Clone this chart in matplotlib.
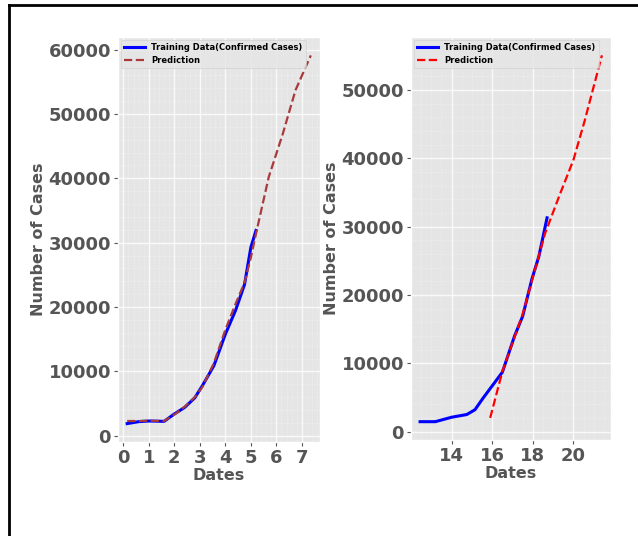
import matplotlib
matplotlib.use('Agg')
import matplotlib.pyplot as plt
from matplotlib.lines import Line2D

# left panel: days since start
train_x1 = [0.15, 0.6, 1.0, 1.6, 2.0, 2.4, 2.8, 3.1, 3.55, 4.0, 4.4, 4.75, 5.0, 5.2]
train_y1 = [1900, 2200, 2300, 2250, 3400, 4400, 5900, 7800, 10900, 15800, 19500, 23500, 29300, 31900]
pred_x1 = [0.15, 0.6, 1.0, 1.6, 2.0, 2.4, 2.8, 3.1, 3.55, 4.0, 4.4, 4.75, 5.0, 5.2, 5.7, 6.25, 6.75, 7.35]
pred_y1 = [2300, 2300, 2350, 2300, 3300, 4500, 6000, 7600, 11300, 16500, 20500, 23800, 27700, 31400, 40200, 46900, 53700, 59100]

# right panel: days
train_x2 = [12.45, 13.2, 14.0, 14.75, 15.15, 15.55, 16.0, 16.5, 17.1, 17.5, 17.95, 18.3, 18.7]
train_y2 = [1450, 1450, 2100, 2500, 3200, 4900, 6700, 8700, 14000, 16900, 22300, 25700, 31300]
pred_x2 = [15.9, 16.5, 17.5, 18.6, 19.3, 20.0, 20.55, 21.4]
pred_y2 = [2000, 8800, 17200, 29000, 34500, 39800, 45500, 55100]

plt.style.use('ggplot')
plt.rcParams['font.family'] = 'DejaVu Sans'
plt.rcParams['font.weight'] = 'bold'
plt.rcParams['axes.labelweight'] = 'bold'

fig = plt.figure(figsize=(6.38, 5.36), dpi=100)
fig.patch.set_facecolor('white')

ax1 = fig.add_axes([118/638, 94/536, 202/638, 405/536])
ax2 = fig.add_axes([411/638, 96/536, 200/638, 403/536])

ax1.plot(train_x1, train_y1, color='blue', lw=2.2, label='Training Data(Confirmed Cases)')
ax1.plot(pred_x1, pred_y1, color='#a83a3a', lw=1.6, ls='--', label='Prediction')
ax1.set_xticks(range(0, 8))

ax2.plot(train_x2, train_y2, color='blue', lw=2.2, label='Training Data(Confirmed Cases)')
ax2.plot(pred_x2, pred_y2, color='red', lw=1.6, ls='--', label='Prediction')
ax2.set_xticks([14, 16, 18, 20])

for ax in (ax1, ax2):
    ax.minorticks_on()
    ax.grid(which='major', color='white', lw=1.0, alpha=0.8)
    ax.grid(which='minor', color='white', lw=0.5, ls=':', alpha=0.6)
    ax.tick_params(which='minor', length=0)
    ax.tick_params(which='major', labelsize=13, colors='#555555', length=3, pad=2)
    for lab in ax.get_xticklabels() + ax.get_yticklabels():
        lab.set_fontweight('bold')
    ax.set_xlabel('Dates', fontsize=11.5, color='#555555', fontweight='bold', labelpad=1)
    ax.set_ylabel('Number of Cases', fontsize=11.5, color='#555555', fontweight='bold', labelpad=2)
    leg = ax.legend(loc='upper left', prop={'size': 6, 'weight': 'bold'},
                    handlelength=2.5, borderaxespad=0.3)
    for t in leg.get_texts():
        t.set_color('black')

# page frame
fig.add_artist(Line2D([9/638, 1], [1 - 5/536, 1 - 5/536], color='black', lw=2))
fig.add_artist(Line2D([9/638, 9/638], [0, 1 - 5/536], color='black', lw=2))

plt.savefig('out.png', dpi=100)
